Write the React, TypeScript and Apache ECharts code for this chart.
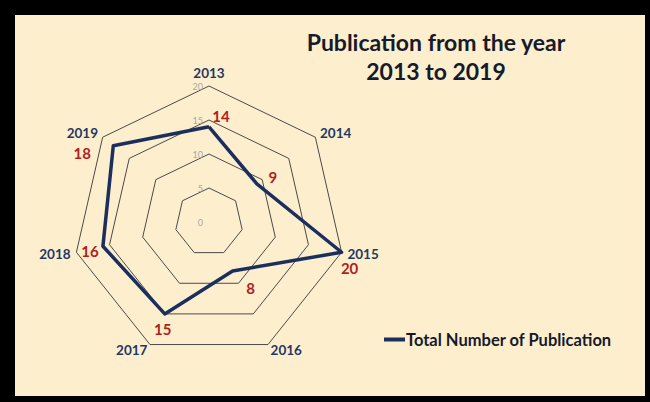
import React, { useEffect, useRef } from "react";
import * as echarts from "echarts";

const years = ["2013", "2014", "2015", "2016", "2017", "2018", "2019"];
const publications = [14, 9, 20, 8, 15, 16, 18];
const axisMax = 20;
const seriesName = "Total Number of Publication";
const titleLines = ["Publication from the year", "2013 to 2019"];

// label offsets (style only) per year, relative to the point
const labelOffsets: [number, number][] = [
  [12, -11],
  [16, -7],
  [8, 16],
  [18, 17],
  [-2, 15],
  [-13, 5],
  [-31, 7],
];

export default function App() {
  const ref = useRef<HTMLDivElement>(null);
  useEffect(() => {
    if (!ref.current) return;
    const chart = echarts.init(ref.current, undefined, { renderer: "svg" });
    // ECharts radar runs counter-clockwise; reorder so years go clockwise
    const order = [0, 6, 5, 4, 3, 2, 1];
    const indicator = order.map((i) => ({
      name: years[i],
      max: axisMax,
      min: 0,
      axisLabel: { show: i === 0 },
    }));
    const values = order.map((i) => publications[i]);
    chart.setOption({
      animation: false,
      backgroundColor: "#000000",
      graphic: [
        {
          type: "rect",
          z: -10,
          shape: { x: 15, y: 15, width: 630, height: 381 },
          style: { fill: "#FDEFCD" },
        },
        {
          type: "text",
          z: 10,
          x: 436,
          y: 27,
          style: {
            text: titleLines.join("\n"),
            align: "center",
            verticalAlign: "top",
            font: "bold 23px Lato",
            lineHeight: 29,
            fill: "#151a2c",
          },
        },
      ],
      legend: {
        left: 379,
        top: 326,
        icon: "rect",
        itemWidth: 21,
        itemHeight: 4,
        itemGap: 4,
        data: [seriesName],
        textStyle: {
          fontFamily: "Lato",
          fontWeight: "bold",
          fontSize: 16.5,
          color: "#151a2c",
          padding: [0, 0, 0, -4],
        },
      },
      radar: {
        center: [209, 222],
        radius: 136,
        startAngle: 90,
        splitNumber: 4,
        shape: "polygon",
        nameGap: 6,
        axisName: {
          color: "#1F3864",
          fontFamily: "Lato",
          fontWeight: "bold",
          fontSize: 13.5,
        },
        axisLine: { show: false },
        axisTick: { show: false },
        axisLabel: {
          show: false,
          color: "#A6A6A6",
          fontSize: 9,
          fontFamily: "Lato",
          margin: 6,
        },
        splitLine: { lineStyle: { color: "#4a4a4a", width: 1 } },
        splitArea: { show: false },
        indicator,
      },
      series: [
        {
          type: "radar",
          name: seriesName,
          symbol: "circle",
          symbolSize: 1,
          itemStyle: { color: "#1B2F5E" },
          lineStyle: { color: "#1B2F5E", width: 3.5 },
          label: {
            show: true,
            position: "inside",
            color: "#B01E1E",
            fontFamily: "Lato",
            fontWeight: "bold",
            fontSize: 15,
          },
          labelLayout: (params: any) => {
            const v = Number(params.text);
            const i = publications.indexOf(v);
            const off = labelOffsets[i] || [0, 0];
            return { dx: off[0], dy: off[1] };
          },
          data: [{ value: values, name: seriesName }],
        },
      ],
    });
    return () => chart.dispose();
  }, []);
  return (
    <div
      ref={ref}
      style={{ position: "fixed", left: 0, top: 0, width: 650, height: 402 }}
    />
  );
}
